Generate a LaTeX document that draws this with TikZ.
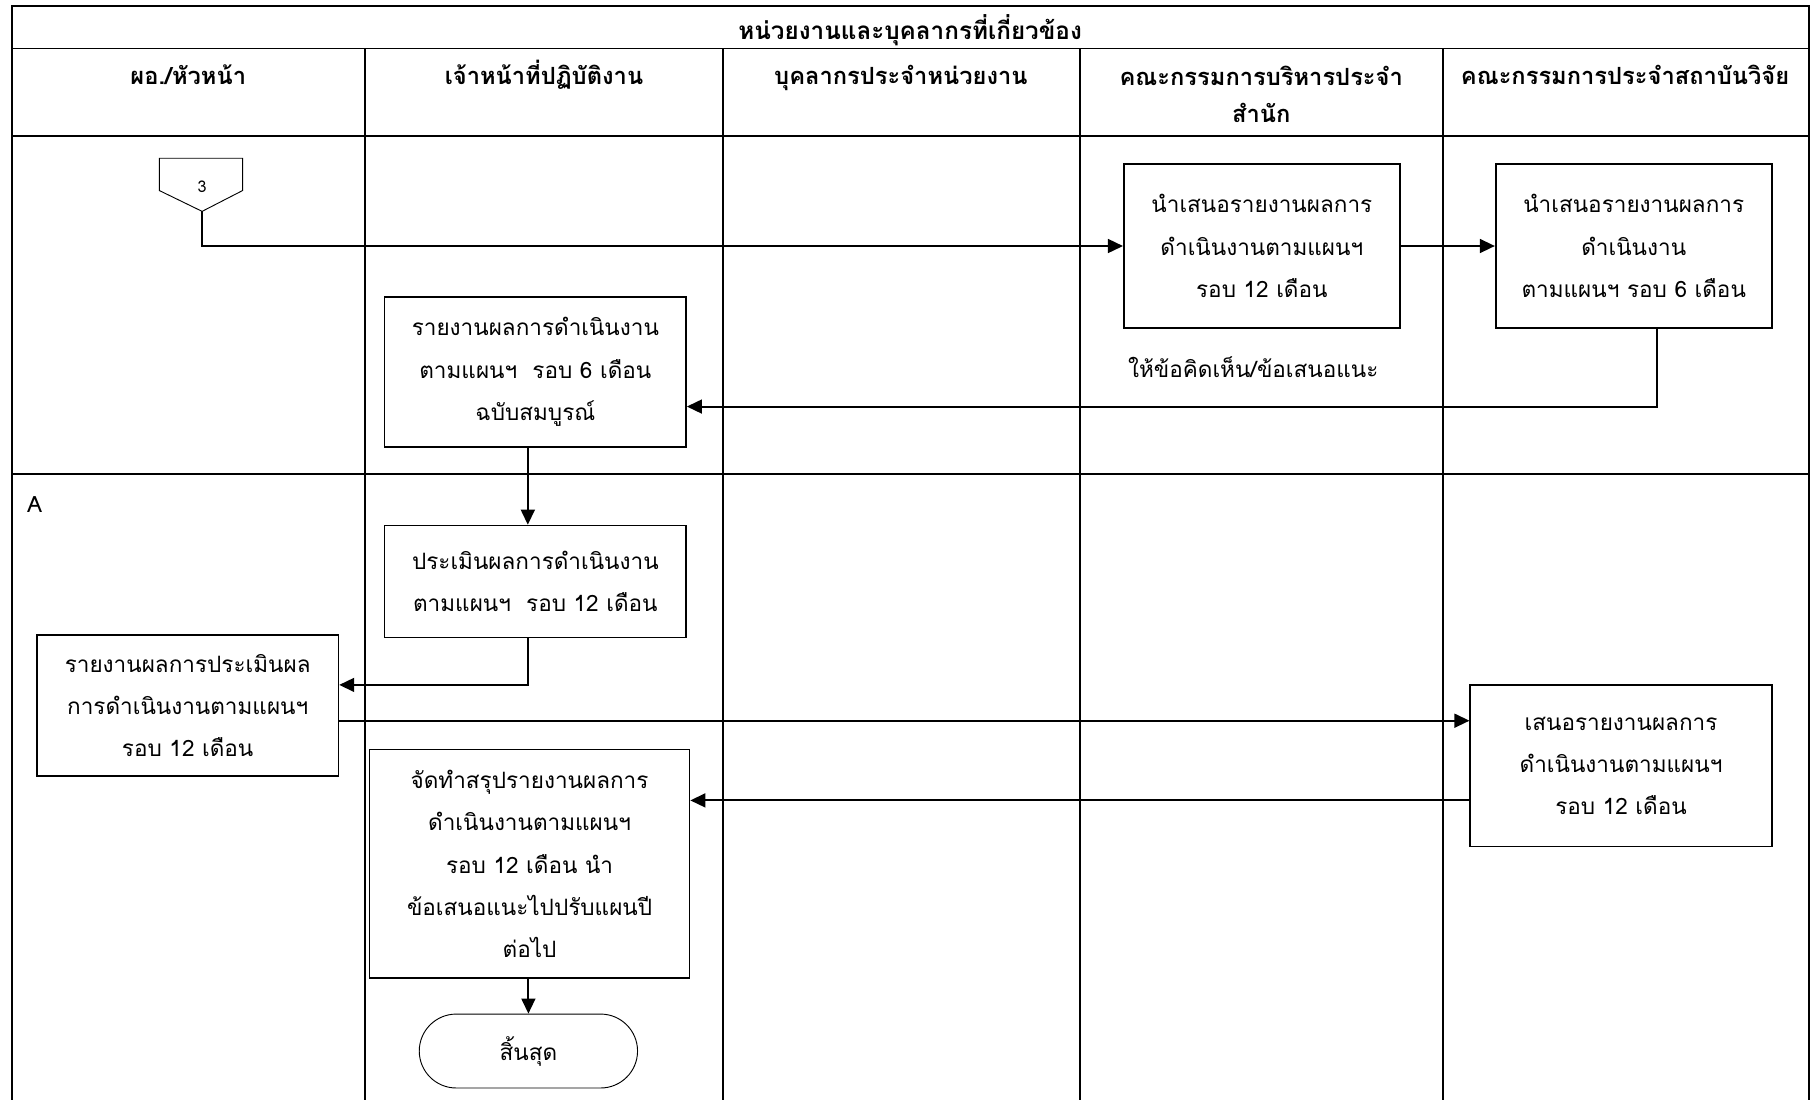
\documentclass[tikz,border=0pt]{standalone}
\usepackage{fontspec}
\setmainfont[Script=Thai]{Loma}
\usetikzlibrary{arrows.meta}
\begin{document}
\begin{tikzpicture}[x=1pt,y=-1pt,
  lane/.style={line width=1.7pt},
  box/.style={draw, line width=1.4pt, align=center, inner sep=0pt, font=\fontsize{19.5}{36.5}\selectfont},
  lbl/.style={align=center, inner sep=0pt, font=\fontsize{19.5}{36.5}\selectfont},
  head/.style={align=center, inner sep=0pt, font=\bfseries\fontsize{20.5}{32}\selectfont},
  conn/.style={line width=1.7pt, -{Triangle[length=13pt,width=12pt]}},
  plain/.style={line width=1.7pt}]
\useasboundingbox (0,0) rectangle (1568,952);
% grid
\draw[lane] (10,952) -- (10,5) -- (1566,5) -- (1566,952);
\draw[lane] (10,42) -- (1566,42);
\draw[lane] (10,118) -- (1566,118);
\draw[lane] (10,410) -- (1566,410);
\foreach \x in {316,626,935,1249} \draw[lane] (\x,42) -- (\x,952);
% headings
\node[head, font=\bfseries\fontsize{21}{32}\selectfont] (h0) at (788,26) {หน่วยงานและบุคลากรที่เกี่ยวข้อง};
\node[head, anchor=base] (h1) at (163,73) {ผอ./หัวหน้า};
\node[head, anchor=base] (h2) at (471,73) {เจ้าหน้าที่ปฏิบัติงาน};
\node[head, anchor=base] (h3) at (780,73) {บุคลากรประจำหน่วยงาน};
\node[head, anchor=north] (h4) at (1092,57) {คณะกรรมการบริหารประจำ\\สำนัก};
\node[head, anchor=base] (h5) at (1407,73) {คณะกรรมการประจำสถาบันวิจัย};
% off-page connector
\draw[line width=0.8pt] (138,137) -- (210,137) -- (210,165) -- (175,183) -- (138,165) -- cycle;
\coordinate (p3) at (175,183);
\node[inner sep=0pt, font=\fontsize{14}{14}\selectfont] (n3) at (175,162) {3};
% boxes
\node[box, minimum width=239pt, minimum height=142pt] (A1) at (1092.5,213) {นำเสนอรายงานผลการ\\ดำเนินงานตามแผนฯ\\รอบ 12 เดือน};
\node[box, minimum width=239pt, minimum height=142pt] (B1) at (1414.5,213) {นำเสนอรายงานผลการ\\ดำเนินงาน\\ตามแผนฯ รอบ 6 เดือน};
\node[lbl] (note) at (1085,318) {ให้ข้อคิดเห็น/ข้อเสนอแนะ};
\node[box, minimum width=261pt, minimum height=130pt] (C1) at (463.5,322) {รายงานผลการดำเนินงาน\\ตามแผนฯ~~รอบ 6 เดือน\\ฉบับสมบูรณ์};
\node[lbl] (labA) at (30,437) {A};
\node[box, minimum width=261pt, minimum height=97pt] (C2) at (463.5,503.5) {ประเมินผลการดำเนินงาน\\ตามแผนฯ~~รอบ 12 เดือน};
\node[box, minimum width=261pt, minimum height=122pt] (D) at (162.5,611) {รายงานผลการประเมินผล\\การดำเนินงานตามแผนฯ\\รอบ 12 เดือน};
\node[box, minimum width=261pt, minimum height=140pt] (E) at (1403.5,663) {เสนอรายงานผลการ\\ดำเนินงานตามแผนฯ\\รอบ 12 เดือน};
\node[box, minimum width=277pt, minimum height=198pt] (F) at (458.5,748) {จัดทำสรุปรายงานผลการ\\ดำเนินงานตามแผนฯ\\รอบ 12 เดือน นำ\\ข้อเสนอแนะไปปรับแผนปี\\ต่อไป};
\node[box, line width=0.8pt, rounded corners=32pt, minimum width=189pt, minimum height=64pt] (T) at (457.5,910) {สิ้นสุด};
% connectors
\draw[conn] (p3) |- (A1.west);
\draw[conn] (A1.east) -- (B1.west);
\coordinate (b1out) at ([xshift=20.5pt]B1.south);
\coordinate (c1in) at ([yshift=-30pt]C1.east);
\draw[conn] (b1out) |- (c1in);
\draw[conn] ([xshift=-6.5pt]C1.south) -- ([xshift=-6.5pt]C2.north);
\coordinate (c2out) at ([xshift=-6.5pt]C2.south);
\coordinate (din) at ([yshift=18pt]D.east);
\draw[conn] (c2out) |- (din);
\coordinate (dout) at ([yshift=-13pt]D.east);
\draw[conn] (dout) -- (dout -| E.west);
\coordinate (eout) at ([yshift=-30pt]E.west);
\draw[conn] (eout) -- (eout -| F.east);
\draw[conn] ([xshift=-1pt]F.south) -- (T.north);
\end{tikzpicture}
\end{document}
